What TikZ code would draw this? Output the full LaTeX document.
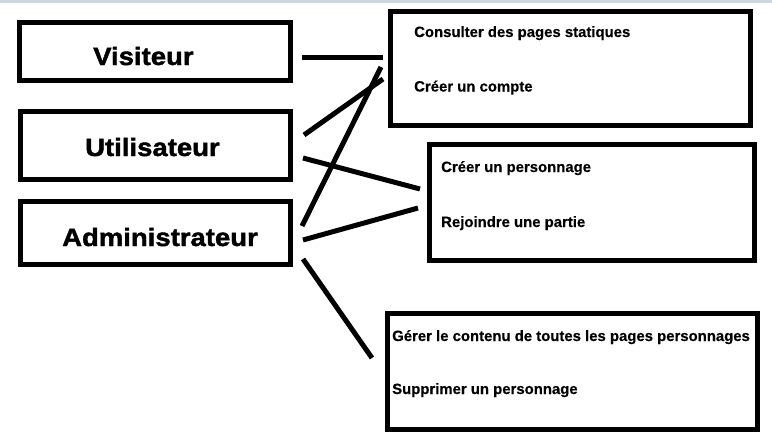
\documentclass[tikz,border=0pt]{standalone}
\usepackage{fontspec}
\newfontfamily\labfont[FakeStretch=1.1,FakeBold=1.6]{Liberation Sans Bold}
\newfontfamily\itemfont[FakeBold=0.4]{Liberation Sans Bold}
\tikzset{
  box/.style={draw=black, line width=5pt, fill=white, inner sep=0pt},
  conn/.style={draw=black, line width=5pt},
  lab/.style={anchor=base west, inner sep=0pt, font=\labfont\fontsize{25}{30}\selectfont},
  itm/.style={anchor=base west, inner sep=0pt, font=\itemfont\fontsize{14.9}{17}\selectfont},
}
\begin{document}
\begin{tikzpicture}[x=1pt,y=-1pt]
\useasboundingbox (0,0) rectangle (772,447);
\fill[white] (0,0) rectangle (772,447);
\fill[fill={rgb,255:red,205;green,214;blue,228}] (0,0) rectangle (772,3);
% left boxes
\node[box, minimum width=271pt, minimum height=58pt] (vis) at (155,51.5) {};
\node[box, minimum width=270pt, minimum height=68pt] (uti) at (155.5,145.5) {};
\node[box, minimum width=270pt, minimum height=63pt] (adm) at (155.5,233) {};
\node[lab] (tvis) at (93,65) {Visiteur};
\node[lab] (tuti) at (85,156) {Utilisateur};
\node[lab] (tadm) at (62,246) {Administrateur};
% right boxes
\node[box, minimum width=360pt, minimum height=114pt] (r1) at (570.5,68.5) {};
\node[box, minimum width=325pt, minimum height=116pt] (r2) at (592,202.5) {};
\node[box, minimum width=370pt, minimum height=116pt] (r3) at (572.5,371.5) {};
\node[itm] (t11) at (414,37) {Consulter des pages statiques};
\node[itm] (t12) at (414,91.5) {Créer un compte};
\node[itm] (t21) at (441,172) {Créer un personnage};
\node[itm] (t22) at (441,227) {Rejoindre une partie};
\node[itm] (t31) at (392,341) {Gérer le contenu de toutes les pages personnages};
\node[itm] (t32) at (392,394) {Supprimer un personnage};
% connectors
\coordinate (c1a) at (302,57);  \coordinate (c1b) at (383,57);
\coordinate (c2a) at (304,135); \coordinate (c2b) at (383,79);
\coordinate (c3a) at (302,226); \coordinate (c3b) at (381,67);
\coordinate (c4a) at (303,158); \coordinate (c4b) at (420,189);
\coordinate (c5a) at (303,240); \coordinate (c5b) at (418,208);
\coordinate (c6a) at (303,259); \coordinate (c6b) at (372,358);
\draw[conn] (c1a) -- (c1b);
\draw[conn] (c2a) -- (c2b);
\draw[conn] (c3a) -- (c3b);
\draw[conn] (c4a) -- (c4b);
\draw[conn] (c5a) -- (c5b);
\draw[conn] (c6a) -- (c6b);
\end{tikzpicture}
\end{document}
